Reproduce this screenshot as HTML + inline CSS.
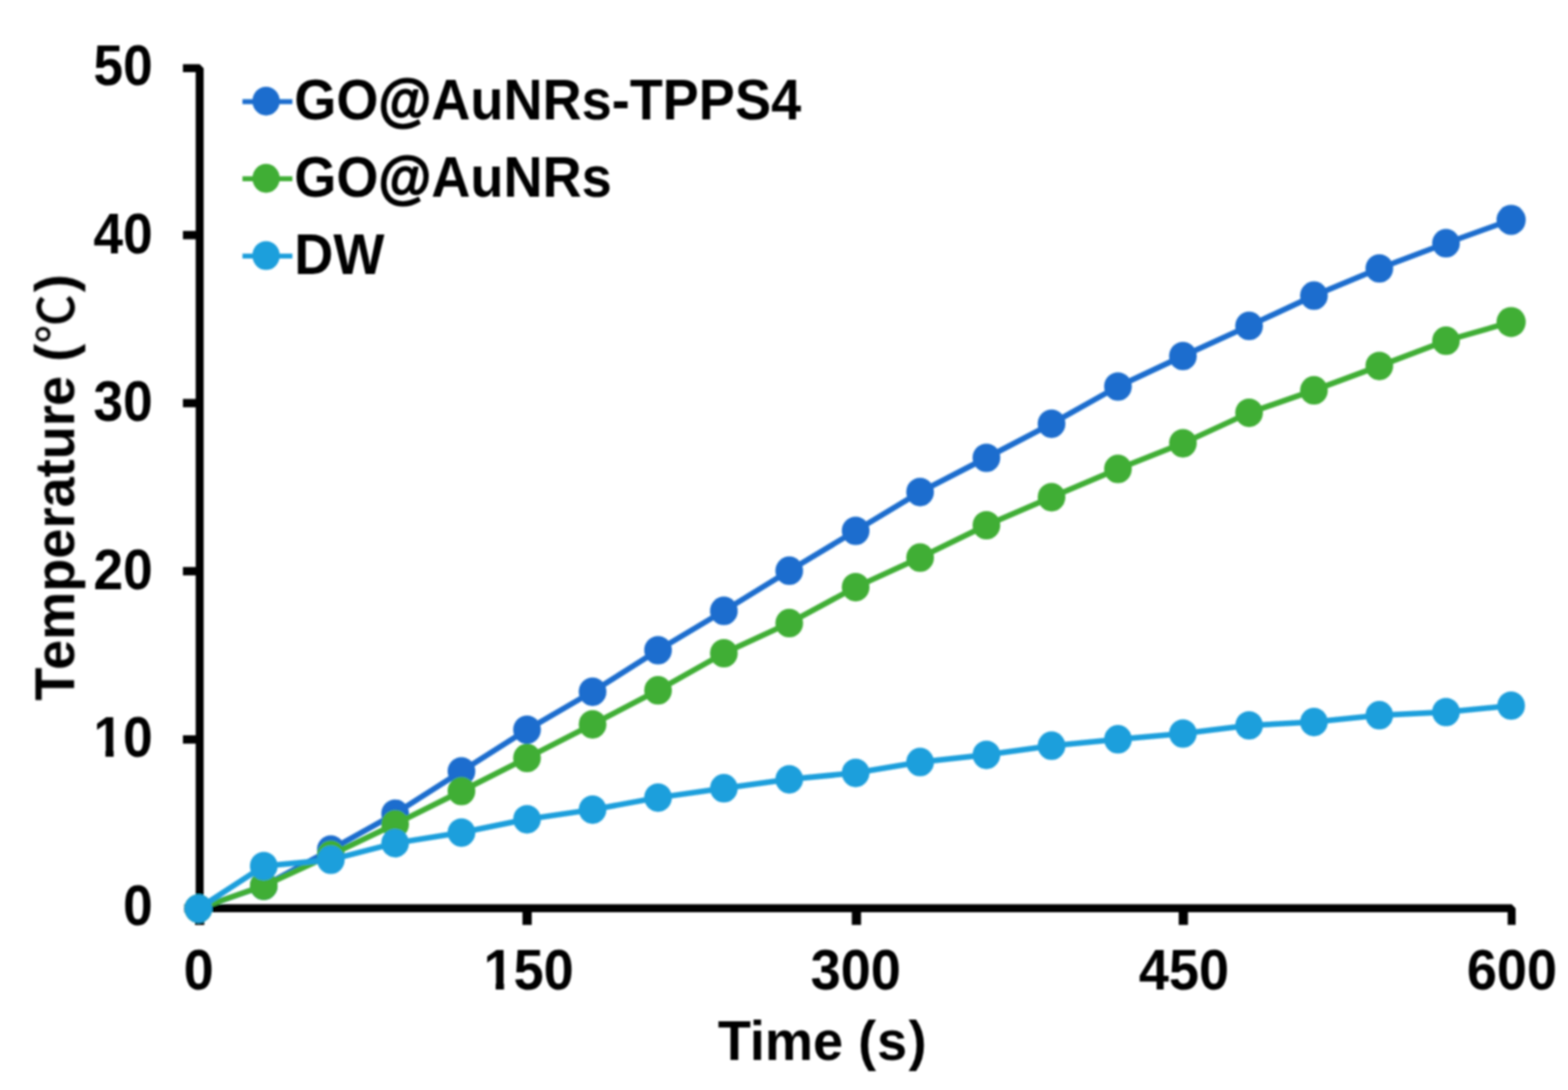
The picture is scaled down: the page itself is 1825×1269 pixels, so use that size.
<!DOCTYPE html>
<html lang="en">
<head>
<meta charset="utf-8">
<title>Temperature (℃) vs Time (s)</title>
<style>
html,body{margin:0;padding:0;background:#fff;}
body{width:1825px;height:1269px;overflow:hidden;}
svg{display:block;width:1825px;height:1269px;}
text{font-family:"Liberation Sans","Noto Sans CJK KR",sans-serif;font-weight:bold;font-size:63px;fill:#000;}
.deg{font-family:"Noto Sans CJK KR","Noto Sans CJK JP","Noto Sans CJK SC",sans-serif;font-weight:500;font-size:57px;}
.at{stroke:#000;stroke-width:1.6px;stroke-linejoin:round;paint-order:stroke fill;}
.axis{fill:none;stroke:#000;stroke-linejoin:bevel;stroke-linecap:butt;}
.s{fill:none;stroke-linejoin:round;stroke-linecap:round;}
</style>
</head>
<body>
<svg width="1825" height="1269" viewBox="0 0 1825 1269">
<defs>
<filter id="soft" x="0" y="0" width="1825" height="1269" filterUnits="userSpaceOnUse"><feGaussianBlur stdDeviation="0.95"/></filter>
<clipPath id="one10" clipPathUnits="userSpaceOnUse"><rect x="-200" y="-100" width="400" height="92.27"/><rect x="-55.87" y="-8.73" width="9.64" height="13.73"/><rect x="-33.81" y="-8.73" width="200" height="13.73"/></clipPath>
<clipPath id="one150" clipPathUnits="userSpaceOnUse"><rect x="-200" y="-100" width="400" height="92.27"/><rect x="-38.35" y="-8.73" width="9.64" height="13.73"/><rect x="-16.6" y="-8.73" width="200" height="13.73"/></clipPath>
</defs>
<rect x="0" y="0" width="1825" height="1269" fill="#fff"/>
<g filter="url(#soft)">
<g class="axis" stroke-width="9.3">
<path d="M212.9,79.4 H232.4 V1057.4 H1759.4 V1076.8"/>
<g stroke-width="9.7">
<path d="M214.5,1057.4 H232.4"/>
<path d="M212.9,860.9 H232.4"/>
<path d="M212.9,665 H232.4"/>
<path d="M212.9,469.3 H232.4"/>
<path d="M212.9,273.7 H232.4"/>
</g>
<g stroke-width="10.8">
<path d="M232.4,1057.4 V1076.8"/>
<path d="M613.5,1057.4 V1076.8"/>
<path d="M996.8,1057.4 V1076.8"/>
<path d="M1377.3,1057.4 V1076.8"/>
</g>
</g>
<g class="ylabels" text-anchor="end">
<text transform="translate(177.8,99.1) scale(0.985,1.045)">50</text>
<text transform="translate(177.8,294.5) scale(0.985,1.045)">40</text>
<text transform="translate(177.8,490.1) scale(0.985,1.045)">30</text>
<text transform="translate(177.8,685.6) scale(0.985,1.045)">20</text>
<text clip-path="url(#one10)" transform="translate(177.8,880.7) scale(0.985,1.045)">10</text>
<text transform="translate(177.8,1077.1) scale(0.985,1.045)">0</text>
</g>
<g class="xlabels" text-anchor="middle">
<text transform="translate(231.2,1152.3) scale(1.0,1.045)">0</text>
<text clip-path="url(#one150)" transform="translate(615.3,1152.3) scale(1.0,1.045)">150</text>
<text transform="translate(996,1152.3) scale(1.0,1.045)">300</text>
<text transform="translate(1378,1152.3) scale(1.0,1.045)">450</text>
<text transform="translate(1759.8,1152.3) scale(1.0,1.045)">600</text>
</g>
<text dx="0 0 0 0 0 0 1 1.7" transform="translate(835.4,1234) scale(1,1.02)">Time (s)</text>
<text dx="0 2 0 0 0 0 0 0 0 0 -1 0 -1 0.5 2.5" transform="translate(86.6,815.7) rotate(-90) scale(1,1.02)">Temperature (<tspan class="deg">℃</tspan>)</text>
<g class="series" fill="#1d6dce" stroke="#1d6dce">
<polyline class="s" stroke-width="6.5" points="230.9,1057.8 307,1031.3 385.1,989.1 459.9,947.3 537.1,898 613.4,849.6 689.7,805.3 765.9,757 842.5,711.2 918.6,664.4 995.9,618 1070.9,572.8 1148.1,533 1223.9,493.3 1301.2,450 1376.8,414.5 1453.8,379.4 1529.3,344.2 1605.4,312.5 1683,283.2 1758.8,256"/>
<g stroke="none">
<ellipse cx="230.9" cy="1057.8" rx="16.1" ry="16.6"/>
<ellipse cx="307" cy="1031.3" rx="16.1" ry="16.6"/>
<ellipse cx="385.1" cy="989.1" rx="16.1" ry="16.6"/>
<ellipse cx="459.9" cy="947.3" rx="16.1" ry="16.6"/>
<ellipse cx="537.1" cy="898" rx="16.1" ry="16.6"/>
<ellipse cx="613.4" cy="849.6" rx="16.1" ry="16.6"/>
<ellipse cx="689.7" cy="805.3" rx="16.1" ry="16.6"/>
<ellipse cx="765.9" cy="757" rx="16.1" ry="16.6"/>
<ellipse cx="842.5" cy="711.2" rx="16.1" ry="16.6"/>
<ellipse cx="918.6" cy="664.4" rx="16.1" ry="16.6"/>
<ellipse cx="995.9" cy="618" rx="16.1" ry="16.6"/>
<ellipse cx="1070.9" cy="572.8" rx="16.1" ry="16.6"/>
<ellipse cx="1148.1" cy="533" rx="16.1" ry="16.6"/>
<ellipse cx="1223.9" cy="493.3" rx="16.1" ry="16.6"/>
<ellipse cx="1301.2" cy="450" rx="16.1" ry="16.6"/>
<ellipse cx="1376.8" cy="414.5" rx="16.1" ry="16.6"/>
<ellipse cx="1453.8" cy="379.4" rx="16.1" ry="16.6"/>
<ellipse cx="1529.3" cy="344.2" rx="16.1" ry="16.6"/>
<ellipse cx="1605.4" cy="312.5" rx="16.1" ry="16.6"/>
<ellipse cx="1683" cy="283.2" rx="16.1" ry="16.6"/>
<ellipse cx="1758.8" cy="256" rx="17" ry="17.5"/>
</g></g>
<g class="series" fill="#3fae35" stroke="#3fae35">
<polyline class="s" stroke-width="6.5" points="230.9,1057.8 307,1031.3 385.1,995.2 459.9,959.5 537.1,921 613.4,882.4 689.7,843.3 765.9,803.7 842.5,760.5 918.6,725.4 995.9,683.6 1070.9,649.2 1148.1,611.5 1223.9,578.8 1301.2,545.9 1376.8,516.1 1453.8,480.6 1529.3,454.4 1605.4,426.1 1683,396.7 1758.8,374.9"/>
<g stroke="none">
<ellipse cx="230.9" cy="1057.8" rx="16.1" ry="16.6"/>
<ellipse cx="307" cy="1031.3" rx="16.1" ry="16.6"/>
<ellipse cx="385.1" cy="995.2" rx="16.1" ry="16.6"/>
<ellipse cx="459.9" cy="959.5" rx="16.1" ry="16.6"/>
<ellipse cx="537.1" cy="921" rx="16.1" ry="16.6"/>
<ellipse cx="613.4" cy="882.4" rx="16.1" ry="16.6"/>
<ellipse cx="689.7" cy="843.3" rx="16.1" ry="16.6"/>
<ellipse cx="765.9" cy="803.7" rx="16.1" ry="16.6"/>
<ellipse cx="842.5" cy="760.5" rx="16.1" ry="16.6"/>
<ellipse cx="918.6" cy="725.4" rx="16.1" ry="16.6"/>
<ellipse cx="995.9" cy="683.6" rx="16.1" ry="16.6"/>
<ellipse cx="1070.9" cy="649.2" rx="16.1" ry="16.6"/>
<ellipse cx="1148.1" cy="611.5" rx="16.1" ry="16.6"/>
<ellipse cx="1223.9" cy="578.8" rx="16.1" ry="16.6"/>
<ellipse cx="1301.2" cy="545.9" rx="16.1" ry="16.6"/>
<ellipse cx="1376.8" cy="516.1" rx="16.1" ry="16.6"/>
<ellipse cx="1453.8" cy="480.6" rx="16.1" ry="16.6"/>
<ellipse cx="1529.3" cy="454.4" rx="16.1" ry="16.6"/>
<ellipse cx="1605.4" cy="426.1" rx="16.1" ry="16.6"/>
<ellipse cx="1683" cy="396.7" rx="16.1" ry="16.6"/>
<ellipse cx="1758.8" cy="374.9" rx="17" ry="17.5"/>
</g></g>
<g class="series" fill="#1e9fdc" stroke="#1e9fdc">
<polyline class="s" stroke-width="6.5" points="230.9,1057.8 307,1008.3 385.1,1000.9 459.9,981.6 537.1,969.3 613.4,953.8 689.7,942.6 765.9,928.6 842.5,917.7 918.6,907.3 995.9,899.8 1070.9,887.2 1148.1,878.8 1223.9,868.2 1301.2,860.7 1376.8,854 1453.8,844.5 1529.3,840.6 1605.4,832.7 1683,829 1758.8,821.5"/>
<g stroke="none">
<ellipse cx="230.9" cy="1057.8" rx="16.1" ry="16.6"/>
<ellipse cx="307" cy="1008.3" rx="16.1" ry="16.6"/>
<ellipse cx="385.1" cy="1000.9" rx="16.1" ry="16.6"/>
<ellipse cx="459.9" cy="981.6" rx="16.1" ry="16.6"/>
<ellipse cx="537.1" cy="969.3" rx="16.1" ry="16.6"/>
<ellipse cx="613.4" cy="953.8" rx="16.1" ry="16.6"/>
<ellipse cx="689.7" cy="942.6" rx="16.1" ry="16.6"/>
<ellipse cx="765.9" cy="928.6" rx="16.1" ry="16.6"/>
<ellipse cx="842.5" cy="917.7" rx="16.1" ry="16.6"/>
<ellipse cx="918.6" cy="907.3" rx="16.1" ry="16.6"/>
<ellipse cx="995.9" cy="899.8" rx="16.1" ry="16.6"/>
<ellipse cx="1070.9" cy="887.2" rx="16.1" ry="16.6"/>
<ellipse cx="1148.1" cy="878.8" rx="16.1" ry="16.6"/>
<ellipse cx="1223.9" cy="868.2" rx="16.1" ry="16.6"/>
<ellipse cx="1301.2" cy="860.7" rx="16.1" ry="16.6"/>
<ellipse cx="1376.8" cy="854" rx="16.1" ry="16.6"/>
<ellipse cx="1453.8" cy="844.5" rx="16.1" ry="16.6"/>
<ellipse cx="1529.3" cy="840.6" rx="16.1" ry="16.6"/>
<ellipse cx="1605.4" cy="832.7" rx="16.1" ry="16.6"/>
<ellipse cx="1683" cy="829" rx="16.1" ry="16.6"/>
<ellipse cx="1758.8" cy="821.5" rx="16.1" ry="16.6"/>
</g></g>
<g class="legend">
<path d="M282.2,118.3 H340.3" stroke="#1d6dce" stroke-width="5.8" fill="none"/>
<ellipse cx="309.7" cy="117.7" rx="15.9" ry="16.8" fill="#1d6dce"/>
<text transform="translate(342.5,139.1) scale(1.0,1.045)">GO<tspan class="at">@</tspan>AuNRs-TPPS4</text>
<path d="M282.2,208.2 H340.3" stroke="#3fae35" stroke-width="5.8" fill="none"/>
<ellipse cx="309.7" cy="207.6" rx="15.9" ry="16.8" fill="#3fae35"/>
<text transform="translate(342.5,229) scale(1.0,1.045)">GO<tspan class="at">@</tspan>AuNRs</text>
<path d="M282.2,298.1 H340.3" stroke="#1e9fdc" stroke-width="5.8" fill="none"/>
<ellipse cx="309.7" cy="297.5" rx="15.9" ry="16.8" fill="#1e9fdc"/>
<text transform="translate(342.5,318.9) scale(1.0,1.045)">DW</text>
</g>
</g>
</svg>
</body>
</html>
